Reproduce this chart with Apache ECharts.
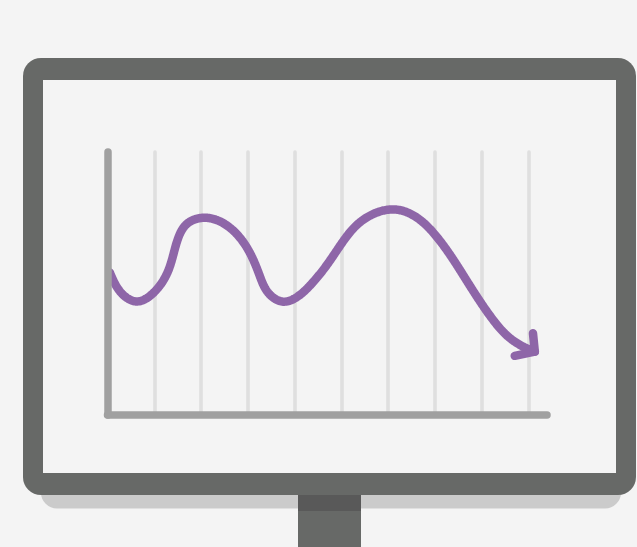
<!DOCTYPE html>
<html>
<head>
<meta charset="utf-8">
<style>html,body{margin:0;padding:0;background:#f4f4f4}#c{width:637px;height:547px}</style>
<script src="https://cdn.jsdelivr.net/npm/echarts@6/dist/echarts.min.js"></script>
</head>
<body>
<div id="c"></div>
<script>
const curveX = [0.05,0.34,0.60,1.04,1.32,1.47,1.72,2.09,2.48,2.80,3.05,3.25,3.46,3.76,4.08,4.35,4.69,5.01,5.33,5.72,6.18,6.55,7.04,7.65,8.22,8.57,8.89,9.14];
const curveY = [5.42,4.56,4.32,4.75,5.58,6.50,7.30,7.50,7.29,6.81,6.15,5.32,4.60,4.31,4.52,4.96,5.70,6.53,7.22,7.67,7.81,7.58,6.78,5.20,3.68,2.98,2.60,2.41];
const arrowX = [9.10,9.14,8.71];
const arrowY = [3.11,2.41,2.25];
const xMax = 9.4, yMax = 10;
const zip = (a, b) => a.map((v, i) => [v, b[i]]);
const rect = (x, y, width, height, r, fill, z) => ({
  type: 'rect', silent: true, z,
  shape: {x, y, width, height, r},
  style: {fill}
});
// Natural cubic spline through pixel knots, parameterised by chord length.
function second(t, v) {
  const n = v.length, a = new Array(n).fill(0), b = new Array(n).fill(0);
  for (let i = 1; i < n - 1; i++) {
    const h0 = t[i] - t[i - 1], h1 = t[i + 1] - t[i];
    const m = 2 * (h0 + h1) - h0 * a[i - 1];
    a[i] = h1 / m;
    b[i] = (6 * ((v[i + 1] - v[i]) / h1 - (v[i] - v[i - 1]) / h0) - h0 * b[i - 1]) / m;
  }
  const d = new Array(n).fill(0);
  for (let i = n - 2; i > 0; i--) d[i] = b[i] - a[i] * d[i + 1];
  return d;
}
function sampleSpline(pts) {
  const t = [0];
  for (let i = 1; i < pts.length; i++) t.push(t[i - 1] + Math.hypot(pts[i][0] - pts[i - 1][0], pts[i][1] - pts[i - 1][1]));
  const xs = pts.map(p => p[0]), ys = pts.map(p => p[1]);
  const dx = second(t, xs), dy = second(t, ys), out = [];
  for (let i = 0; i < pts.length - 1; i++) {
    const h = t[i + 1] - t[i], steps = Math.ceil(h);
    for (let s = 0; s < steps; s++) {
      const B = s / steps, A = 1 - B;
      const f = (v, d) => A * v[i] + B * v[i + 1] + ((A * A * A - A) * d[i] + (B * B * B - B) * d[i + 1]) * h * h / 6;
      out.push([f(xs, dx), f(ys, dy)]);
    }
  }
  out.push(pts[pts.length - 1]);
  return out;
}
const chart = echarts.init(document.getElementById('c'));
chart.setOption({
  animation: false,
  backgroundColor: '#f4f4f4',
  grid: {left: 107.5, top: 152, width: 439.5, height: 263, containLabel: false},
  xAxis: {
    type: 'value', min: 0, max: xMax, interval: 1, z: 0,
    axisLabel: {show: false}, axisTick: {show: false},
    axisLine: {show: true, onZero: false, lineStyle: {color: '#a0a0a0', width: 7.5, cap: 'round'}},
    splitLine: {show: true, showMinLine: false, showMaxLine: false, lineStyle: {color: '#dfdfdf', width: 3.6, cap: 'round', type: 'solid'}}
  },
  yAxis: {
    type: 'value', min: 0, max: yMax, z: 5,
    axisLabel: {show: false}, axisTick: {show: false}, splitLine: {show: false},
    axisLine: {show: true, onZero: false, lineStyle: {color: '#a0a0a0', width: 7.5, cap: 'round'}}
  },
  series: [
    {type: 'custom', data: zip(curveX, curveY), silent: true, clip: false, z: 2,
     encode: {x: 0, y: 1},
     renderItem: (params, api) => {
       if (params.dataIndex !== 0) return null;
       const knots = curveX.map((v, i) => api.coord([v, curveY[i]]));
       return {type: 'polyline', silent: true,
         shape: {points: sampleSpline(knots)},
         style: {fill: null, stroke: '#8e66a8', lineWidth: 8.5, lineCap: 'round', lineJoin: 'round'}};
     }},
    {type: 'line', data: zip(arrowX, arrowY), showSymbol: false, symbol: 'none', clip: false, silent: true, z: 2,
     lineStyle: {color: '#8e66a8', width: 8.5, cap: 'round', join: 'round'}}
  ],
  graphic: [
    rect(41, 470, 580, 38.5, 16, '#cbcbcb', -5),
    rect(298, 490, 63, 57, 0, '#676967', -4),
    rect(23, 58, 613, 437, 18, '#676967', -3),
    rect(298, 495, 63, 16, 0, '#595959', -3),
    rect(43, 80, 573, 393, 0, '#f4f4f4', -2)
  ]
});
</script>
</body>
</html>
